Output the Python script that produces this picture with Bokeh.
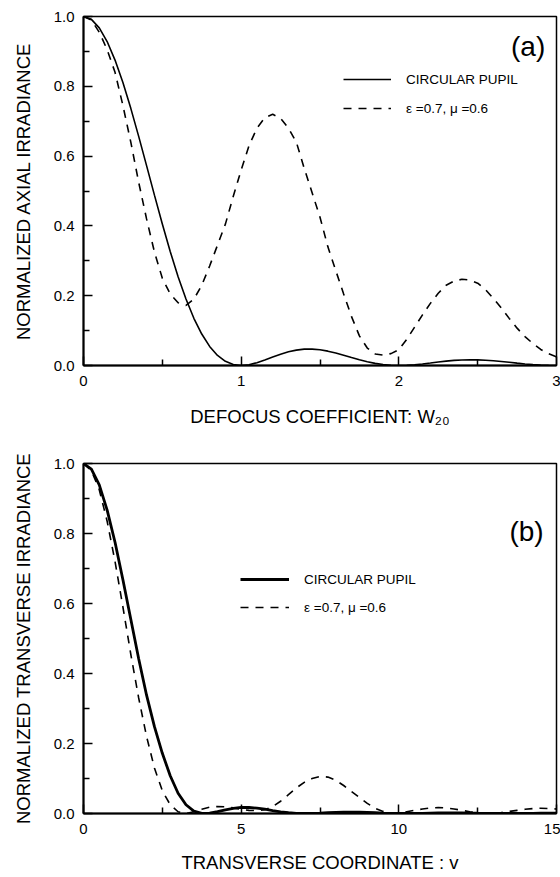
from bokeh.plotting import figure
from bokeh.models import (FixedTicker, PrintfTickFormatter, Legend, LegendItem,
                          Label, Range1d)
from bokeh.layouts import column
from bokeh.embed import file_html
from bokeh.resources import INLINE

# ---------------- data: panel (a) ----------------
w20 = [0.0, 0.05, 0.1, 0.15, 0.2, 0.25, 0.3, 0.35, 0.4, 0.45, 0.5, 0.55, 0.6, 0.65, 0.7,
       0.75, 0.8, 0.85, 0.9, 0.95, 1.0, 1.05, 1.1, 1.15, 1.2, 1.25, 1.3, 1.35, 1.4, 1.45,
       1.5, 1.55, 1.6, 1.65, 1.7, 1.75, 1.8, 1.85, 1.9, 1.95, 2.0, 2.05, 2.1, 2.15, 2.2,
       2.25, 2.3, 2.35, 2.4, 2.45, 2.5, 2.55, 2.6, 2.65, 2.7, 2.75, 2.8, 2.85, 2.9, 2.95, 3.0]
axial_circular = [1.0, 0.9918, 0.9675, 0.9282, 0.8751, 0.8106, 0.7368, 0.6566, 0.5728, 0.4881,
                  0.4053, 0.3267, 0.2546, 0.1904, 0.1353, 0.0901, 0.0547, 0.0289, 0.0119, 0.0027,
                  0.0, 0.0023, 0.0080, 0.0158, 0.0243, 0.0324, 0.0392, 0.0441, 0.0468, 0.0470,
                  0.0450, 0.0411, 0.0358, 0.0295, 0.0229, 0.0165, 0.0108, 0.0061, 0.0027, 0.0007,
                  0.0, 0.0006, 0.0022, 0.0045, 0.0072, 0.0100, 0.0125, 0.0146, 0.0159, 0.0165,
                  0.0162, 0.0152, 0.0136, 0.0115, 0.0091, 0.0067, 0.0045, 0.0026, 0.0012, 0.0003, 0.0]
axial_annular = [1.0, 0.99, 0.955, 0.905, 0.84, 0.745, 0.64, 0.525, 0.42, 0.325,
                 0.25, 0.205, 0.18, 0.172, 0.19, 0.23, 0.285, 0.345, 0.405, 0.485,
                 0.56, 0.63, 0.68, 0.71, 0.72, 0.708, 0.68, 0.64, 0.565, 0.495,
                 0.425, 0.34, 0.272, 0.205, 0.14, 0.085, 0.05, 0.033, 0.03, 0.034,
                 0.045, 0.075, 0.11, 0.145, 0.178, 0.207, 0.23, 0.242, 0.247, 0.245,
                 0.236, 0.217, 0.192, 0.165, 0.135, 0.107, 0.083, 0.063, 0.046, 0.034, 0.025]

# ---------------- data: panel (b) ----------------
v = [0.0, 0.25, 0.5, 0.75, 1.0, 1.25, 1.5, 1.75, 2.0, 2.25, 2.5, 2.75, 3.0, 3.25, 3.5,
     3.75, 4.0, 4.25, 4.5, 4.75, 5.0, 5.25, 5.5, 5.75, 6.0, 6.25, 6.5, 6.75, 7.0,
     7.25, 7.5, 7.75, 8.0, 8.25, 8.5, 8.75, 9.0, 9.25, 9.5, 9.75, 10.0, 10.25,
     10.5, 10.75, 11.0, 11.25, 11.5, 11.75, 12.0, 12.25, 12.5, 12.75, 13.0, 13.25,
     13.5, 13.75, 14.0, 14.25, 14.5, 14.75, 15.0]
transverse_circular = [1.0, 0.984, 0.939, 0.867, 0.775, 0.668, 0.555, 0.442, 0.338, 0.248,
                       0.172, 0.108, 0.058, 0.025, 0.007,
                       0.0005, 0.0012, 0.0054, 0.0105, 0.0148, 0.0172, 0.0172, 0.0154, 0.0123,
                       0.0085, 0.0048, 0.0022, 0.0006, 0.0,
                       0.0004, 0.0013, 0.0024, 0.0034, 0.0041, 0.0041, 0.0037, 0.003, 0.0021,
                       0.0012, 0.0005, 0.0001, 0.0,
                       0.0002, 0.0006, 0.001, 0.0014, 0.0016, 0.0016, 0.0014, 0.0011, 0.0007,
                       0.0004, 0.0001, 0.0,
                       0.0, 0.0002, 0.0004, 0.0006, 0.0007, 0.0008, 0.0007]
transverse_annular = [1.0, 0.98, 0.925, 0.835, 0.72, 0.59, 0.455, 0.33, 0.22, 0.13,
                      0.065, 0.025, 0.005, 0.0, 0.005,
                      0.012, 0.018, 0.02, 0.019, 0.016, 0.012, 0.009, 0.008, 0.011, 0.02,
                      0.035, 0.054, 0.073, 0.089,
                      0.1, 0.106, 0.104, 0.095, 0.08, 0.063, 0.046, 0.029, 0.015, 0.006,
                      0.002, 0.002, 0.005,
                      0.009, 0.013, 0.016, 0.017, 0.016, 0.013, 0.009, 0.005, 0.002, 0.001,
                      0.001, 0.003,
                      0.006, 0.009, 0.012, 0.014, 0.015, 0.014, 0.013]

y_ticks = [0.0, 0.2, 0.4, 0.6, 0.8, 1.0]
y_minor = [0.1, 0.3, 0.5, 0.7, 0.9]
xa_ticks = [0, 1, 2, 3]
xa_minor = [0.5, 1.5, 2.5]
xb_ticks = [0, 5, 10, 15]
xb_minor = [2.5, 7.5, 12.5]

label_circ = "CIRCULAR PUPIL"
label_ann = "\u03b5 =0.7, \u03bc =0.6"

FONT = "Liberation Sans"


def style(p, xticks, xminor, xlabel, ylabel):
    p.xgrid.visible = False
    p.ygrid.visible = False
    p.outline_line_color = "black"
    p.outline_line_width = 1.5
    p.outline_line_alpha = 1.0
    p.background_fill_color = "white"
    p.border_fill_color = "white"
    p.xaxis.ticker = FixedTicker(ticks=xticks, minor_ticks=xminor)
    p.yaxis.ticker = FixedTicker(ticks=y_ticks, minor_ticks=y_minor)
    p.yaxis.formatter = PrintfTickFormatter(format="%.1f")
    p.xaxis.axis_label = xlabel
    p.yaxis.axis_label = ylabel
    for ax in (p.xaxis[0], p.yaxis[0]):
        ax.axis_line_color = "black"
        ax.axis_line_width = 2
        ax.major_tick_in = 9
        ax.major_tick_out = 0
        ax.minor_tick_in = 6
        ax.minor_tick_out = 0
        ax.major_tick_line_color = "black"
        ax.minor_tick_line_color = "black"
        ax.major_tick_line_width = 1.5
        ax.minor_tick_line_width = 1.5
        ax.major_label_text_font = FONT
        ax.major_label_text_font_size = "15px"
        ax.major_label_text_color = "black"
        ax.axis_label_text_font = FONT
        ax.axis_label_text_font_size = "18.5px"
        ax.axis_label_text_font_style = "normal"
        ax.axis_label_text_color = "black"
    p.xaxis.major_label_standoff = 10
    p.yaxis.major_label_standoff = 9
    p.yaxis.axis_label_standoff = 17


# ---------------- panel (a) ----------------
p1 = figure(width=560, height=445, output_backend="svg", toolbar_location=None,
            x_range=Range1d(0, 3), y_range=Range1d(0, 1),
            min_border_left=82, min_border_right=4, min_border_top=16, min_border_bottom=80)
style(p1, xa_ticks, xa_minor, "DEFOCUS COEFFICIENT: W\u2082\u2080",
      "NORMALIZED AXIAL IRRADIANCE")
p1.xaxis.axis_label_standoff = 17
r1a = p1.line(w20, axial_circular, line_color="black", line_width=1.6)
r1b = p1.line(w20, axial_annular, line_color="black", line_width=1.6, line_dash="8 7")
leg1 = Legend(items=[LegendItem(label=label_circ, renderers=[r1a]),
                     LegendItem(label=label_ann, renderers=[r1b])],
              location=(260, 247), glyph_width=48, glyph_height=20, label_height=20,
              label_standoff=15, spacing=9, padding=0, margin=0,
              border_line_alpha=0, background_fill_alpha=0,
              label_text_font=FONT, label_text_font_size="13.5px", label_text_color="black")
p1.add_layout(leg1)
p1.add_layout(Label(x=2.82, y=0.915, text="(a)", text_align="center", text_baseline="middle",
                    text_font=FONT, text_font_size="28px", text_color="black"))

# ---------------- panel (b) ----------------
p2 = figure(width=560, height=432, output_backend="svg", toolbar_location=None,
            x_range=Range1d(0, 15), y_range=Range1d(0, 1),
            min_border_left=83, min_border_right=3, min_border_top=18, min_border_bottom=64)
style(p2, xb_ticks, xb_minor, "TRANSVERSE COORDINATE : v",
      "NORMALIZED TRANSVERSE IRRADIANCE")
p2.xaxis.axis_label_standoff = 15
p2.xaxis.major_label_standoff = 10
r2a = p2.line(v, transverse_circular, line_color="black", line_width=2.8)
r2b = p2.line(v, transverse_annular, line_color="black", line_width=1.6, line_dash="8 7")
leg2 = Legend(items=[LegendItem(label=label_circ, renderers=[r2a]),
                     LegendItem(label=label_ann, renderers=[r2b])],
              location=(157, 196), glyph_width=49, glyph_height=20, label_height=20,
              label_standoff=15, spacing=8, padding=0, margin=0,
              border_line_alpha=0, background_fill_alpha=0,
              label_text_font=FONT, label_text_font_size="13.5px", label_text_color="black")
p2.add_layout(leg2)
p2.add_layout(Label(x=14.05, y=0.805, text="(b)", text_align="center", text_baseline="middle",
                    text_font=FONT, text_font_size="28px", text_color="black"))

layout = column(p1, p2, spacing=0)
open("out.html", "w").write(file_html(layout, INLINE))
